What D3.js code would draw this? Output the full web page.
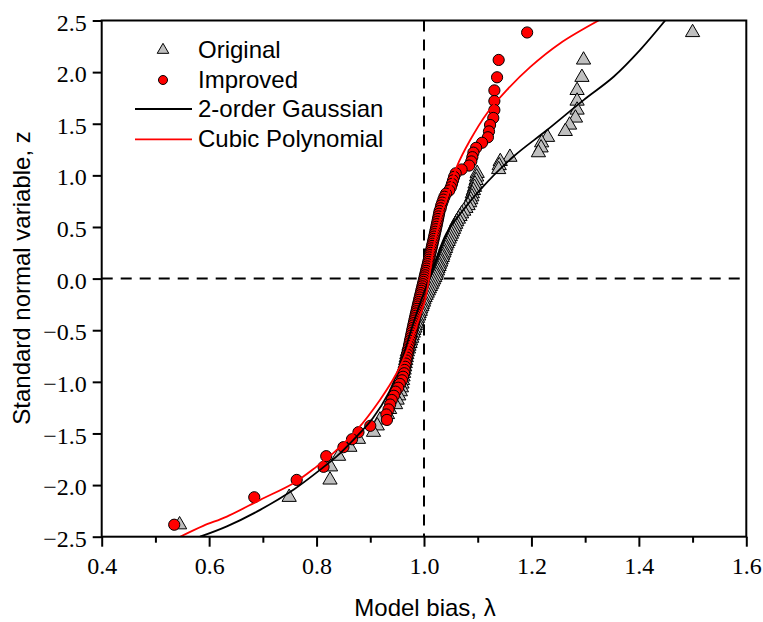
<!DOCTYPE html>
<html>
<head>
<meta charset="utf-8">
<script src="https://cdn.jsdelivr.net/npm/d3@7"></script>
<style>
  body { margin: 0; background: #fff; }
  svg { display: block; }
</style>
</head>
<body>
<svg id="chart" width="763" height="622"></svg>
<script>
// standard normal scores shared by both series (rank i/(n+1), n = 116)
var zScores = [2.384, 2.118, 1.950, 1.823, 1.720, 1.633, 1.556, 1.488, 1.426, 1.369, 1.316, 1.267, 1.220, 1.176, 1.135, 1.095, 1.057, 1.020, 0.985, 0.951, 0.917, 0.885, 0.854, 0.823,
  0.793, 0.765, 0.736, 0.708, 0.681, 0.654, 0.628, 0.602, 0.577, 0.552, 0.527, 0.502, 0.478, 0.454, 0.431, 0.407, 0.384, 0.361, 0.338, 0.316, 0.293, 0.271, 0.249, 0.227, 0.205, 0.183, 0.161, 0.140, 0.118, 0.097, 0.075, 0.054, 0.032, 0.011,
  -0.011, -0.032, -0.054, -0.075, -0.097, -0.118, -0.140, -0.161, -0.183, -0.205, -0.227, -0.249, -0.271, -0.293, -0.316, -0.338, -0.361, -0.384, -0.407, -0.431, -0.454, -0.478, -0.502, -0.527, -0.552, -0.577, -0.602, -0.628, -0.654, -0.681, -0.708, -0.736,
  -0.765, -0.793, -0.823, -0.854, -0.885, -0.917, -0.951, -0.985, -1.020, -1.057, -1.095, -1.135, -1.176, -1.220, -1.267, -1.316, -1.369, -1.426, -1.488, -1.556, -1.633, -1.720, -1.823, -1.950, -2.118, -2.384];

var originalBias = [1.500, 1.297, 1.294, 1.285, 1.285, 1.285, 1.282, 1.271, 1.263, 1.230, 1.219, 1.218, 1.213, 1.160, 1.142, 1.140, 1.139, 1.099, 1.098, 1.097, 1.095, 1.094, 1.092, 1.090,
  1.089, 1.087, 1.085, 1.082, 1.078, 1.074, 1.070, 1.067, 1.064, 1.061, 1.059, 1.057, 1.055, 1.053, 1.051, 1.049, 1.047, 1.045, 1.043, 1.041, 1.040, 1.038, 1.037, 1.035, 1.034, 1.032, 1.031, 1.029, 1.028, 1.026, 1.025, 1.023, 1.022, 1.020,
  1.018, 1.016, 1.014, 1.012, 1.010, 1.008, 1.006, 1.004, 1.002, 1.000, 0.999, 0.997, 0.996, 0.994, 0.993, 0.991, 0.990, 0.988, 0.987, 0.986, 0.984, 0.983, 0.981, 0.980, 0.978, 0.977, 0.975, 0.974, 0.972, 0.971, 0.969, 0.968,
  0.967, 0.966, 0.965, 0.964, 0.963, 0.962, 0.961, 0.960, 0.959, 0.958, 0.956, 0.953, 0.950, 0.947, 0.936, 0.932, 0.918, 0.913, 0.906, 0.878, 0.862, 0.841, 0.826, 0.825, 0.749, 0.545];

var improvedBias = [1.192, 1.139, 1.136, 1.131, 1.131, 1.131, 1.129, 1.123, 1.121, 1.119, 1.108, 1.097, 1.092, 1.090, 1.088, 1.084, 1.070, 1.059, 1.056, 1.054, 1.052, 1.050, 1.047, 1.041,
  1.038, 1.036, 1.034, 1.032, 1.031, 1.029, 1.028, 1.027, 1.026, 1.025, 1.024, 1.023, 1.022, 1.021, 1.020, 1.019, 1.018, 1.017, 1.016, 1.015, 1.014, 1.013, 1.012, 1.011, 1.010, 1.009, 1.008, 1.007, 1.006, 1.005, 1.004, 1.003, 1.002, 1.001,
  1.000, 0.999, 0.998, 0.997, 0.996, 0.995, 0.994, 0.993, 0.992, 0.991, 0.990, 0.989, 0.988, 0.987, 0.986, 0.985, 0.984, 0.983, 0.982, 0.981, 0.980, 0.979, 0.978, 0.977, 0.976, 0.975, 0.974, 0.973, 0.972, 0.971, 0.970, 0.969,
  0.968, 0.967, 0.966, 0.965, 0.964, 0.963, 0.961, 0.959, 0.955, 0.952, 0.947, 0.944, 0.940, 0.937, 0.934, 0.930, 0.931, 0.900, 0.878, 0.866, 0.850, 0.818, 0.813, 0.763, 0.684, 0.535];

// fitted curves, [lambda, z]
var gaussFit = [[0.583, -2.5], [0.633, -2.40], [0.695, -2.24], [0.757, -2.045], [0.807, -1.85], [0.838, -1.72], [0.869, -1.56], [0.905, -1.35], [0.935, -1.10],
  [0.958, -0.80], [0.976, -0.50], [0.992, -0.25], [1.011, 0.018], [1.020, 0.15], [1.042, 0.439], [1.073, 0.664], [1.104, 0.858], [1.166, 1.18], [1.229, 1.439],
  [1.297, 1.729], [1.353, 1.955], [1.402, 2.213], [1.449, 2.5]];
var cubicFit = [[0.546, -2.5], [0.589, -2.395], [0.633, -2.305], [0.695, -2.143], [0.757, -1.982], [0.800, -1.821], [0.831, -1.691], [0.875, -1.466], [0.918, -1.175],
  [0.949, -0.917], [0.974, -0.627], [0.990, -0.40], [1.002, -0.207], [1.010, 0.018], [1.018, 0.309], [1.033, 0.632], [1.049, 0.890], [1.061, 1.083], [1.086, 1.342],
  [1.117, 1.600], [1.154, 1.826], [1.198, 2.051], [1.253, 2.278], [1.325, 2.5]];

var xTicks = [0.4, 0.6, 0.8, 1.0, 1.2, 1.4, 1.6];
var xMinorTicks = [0.5, 0.7, 0.9, 1.1, 1.3, 1.5];
var yTicks = [-2.5, -2.0, -1.5, -1.0, -0.5, 0.0, 0.5, 1.0, 1.5, 2.0, 2.5];
var legendNames = ["Original", "Improved", "2-order Gaussian", "Cubic Polynomial"];

var svg = d3.select("#chart");
var plotLeft = 101.7, plotRight = 746.3, plotTop = 20.5, plotBottom = 536.7;

var x = d3.scaleLinear().domain([0.4, 1.6]).range([plotLeft, plotRight]);
var y = d3.scaleLinear().domain([-2.5, 2.5]).range([plotBottom, plotTop]);

var tickFont = "'Liberation Serif', 'Times New Roman', serif";
var textFont = "'Liberation Sans', Arial, sans-serif";

svg.append("defs").append("clipPath").attr("id", "plotClip")
    .append("rect").attr("x", plotLeft).attr("y", plotTop).attr("width", plotRight - plotLeft).attr("height", plotBottom - plotTop);

//#region AXES
var xAxis = svg.append("g").attr("transform", "translate(0," + plotBottom + ")")
    .call(d3.axisBottom(x).tickValues(xTicks).tickSize(10).tickSizeOuter(0).tickPadding(10).tickFormat(d3.format(".1f")));
svg.append("g").attr("transform", "translate(0," + plotBottom + ")")
    .call(d3.axisBottom(x).tickValues(xMinorTicks).tickSize(6).tickSizeOuter(0).tickFormat(""));
var yAxis = svg.append("g").attr("transform", "translate(" + plotLeft + ",0)")
    .call(d3.axisLeft(y).tickValues(yTicks).tickSize(9).tickSizeOuter(0).tickPadding(6).tickFormat(d3.format(".1f")));

svg.selectAll(".domain").remove();
svg.selectAll(".tick line").style("stroke", "black").style("stroke-width", "2px");
svg.selectAll(".tick text").style("font-family", tickFont).style("font-size", "24px").style("fill", "black");
yAxis.selectAll(".tick text").attr("dy", "0.4em");

// dashed reference lines
svg.append("line")
    .style("stroke", "black").style("stroke-width", "2px").style("stroke-dasharray", "11,8")
    .attr("x1", x(1.0)).attr("y1", plotTop).attr("x2", x(1.0)).attr("y2", plotBottom);
svg.append("line")
    .style("stroke", "black").style("stroke-width", "2px").style("stroke-dasharray", "11,8")
    .attr("x1", plotLeft).attr("y1", y(0)).attr("x2", plotRight).attr("y2", y(0));

//#region POINTS
var plot = svg.append("g").attr("clip-path", "url(#plotClip)");
var triangle = d3.symbol().type(d3.symbolTriangle).size(88);

plot.append("g").selectAll("path")
    .data(zScores)
    .join("path")
    .attr("d", triangle)
    .attr("transform", function(d, i){ return "translate(" + x(originalBias[i]) + "," + y(d) + ")"; })
    .style("fill", "#bfbfbf")
    .style("stroke", "black")
    .style("stroke-width", "1px");

plot.append("g").selectAll("circle")
    .data(zScores)
    .join("circle")
    .attr("cx", function(d, i){ return x(improvedBias[i]); })
    .attr("cy", function(d){ return y(d); })
    .attr("r", 5.6)
    .style("fill", "#ff0000")
    .style("stroke", "black")
    .style("stroke-width", "1px");

//#region CURVES
var fitLine = d3.line()
    .x(function(d){ return x(d[0]); })
    .y(function(d){ return y(d[1]); })
    .curve(d3.curveCatmullRom.alpha(0.5));

plot.append("path").attr("d", fitLine(gaussFit))
    .style("fill", "none").style("stroke", "black").style("stroke-width", "1.8px");
plot.append("path").attr("d", fitLine(cubicFit))
    .style("fill", "none").style("stroke", "#ff0000").style("stroke-width", "1.8px");

// frame
svg.append("rect")
    .attr("x", plotLeft).attr("y", plotTop).attr("width", plotRight - plotLeft).attr("height", plotBottom - plotTop)
    .style("fill", "none").style("stroke", "black").style("stroke-width", "2px");

//#region LEGEND
var legend = svg.append("g");
var legendRows = [58.3, 88.3, 117.3, 147.3];

legend.append("path")
    .attr("d", d3.symbol().type(d3.symbolTriangle).size(58)())
    .attr("transform", "translate(163,50)")
    .style("fill", "#bfbfbf").style("stroke", "black").style("stroke-width", "1px");
legend.append("circle")
    .attr("cx", 163).attr("cy", 80).attr("r", 4.5)
    .style("fill", "#ff0000").style("stroke", "black").style("stroke-width", "1px");
legend.append("line")
    .attr("x1", 135).attr("y1", 109).attr("x2", 192).attr("y2", 109)
    .style("stroke", "black").style("stroke-width", "1.8px");
legend.append("line")
    .attr("x1", 135).attr("y1", 139.3).attr("x2", 192).attr("y2", 139.3)
    .style("stroke", "#ff0000").style("stroke-width", "1.8px");

legend.selectAll("text")
    .data(legendNames)
    .join("text")
    .attr("x", 198)
    .attr("y", function(d, i){ return legendRows[i]; })
    .style("font-family", textFont)
    .style("font-size", "24px")
    .style("fill", "black")
    .text(function(d){ return d; });

//#region TITLES
svg.append("text")
    .attr("x", (plotLeft + plotRight) / 2 + 1).attr("y", 616)
    .attr("text-anchor", "middle")
    .style("font-family", textFont).style("font-size", "24px")
    .text("Model bias, λ");

svg.append("text")
    .attr("transform", "translate(30,278) rotate(-90)")
    .attr("text-anchor", "middle")
    .style("font-family", textFont).style("font-size", "24px")
    .text("Standard normal variable, z");
</script>
</body>
</html>
